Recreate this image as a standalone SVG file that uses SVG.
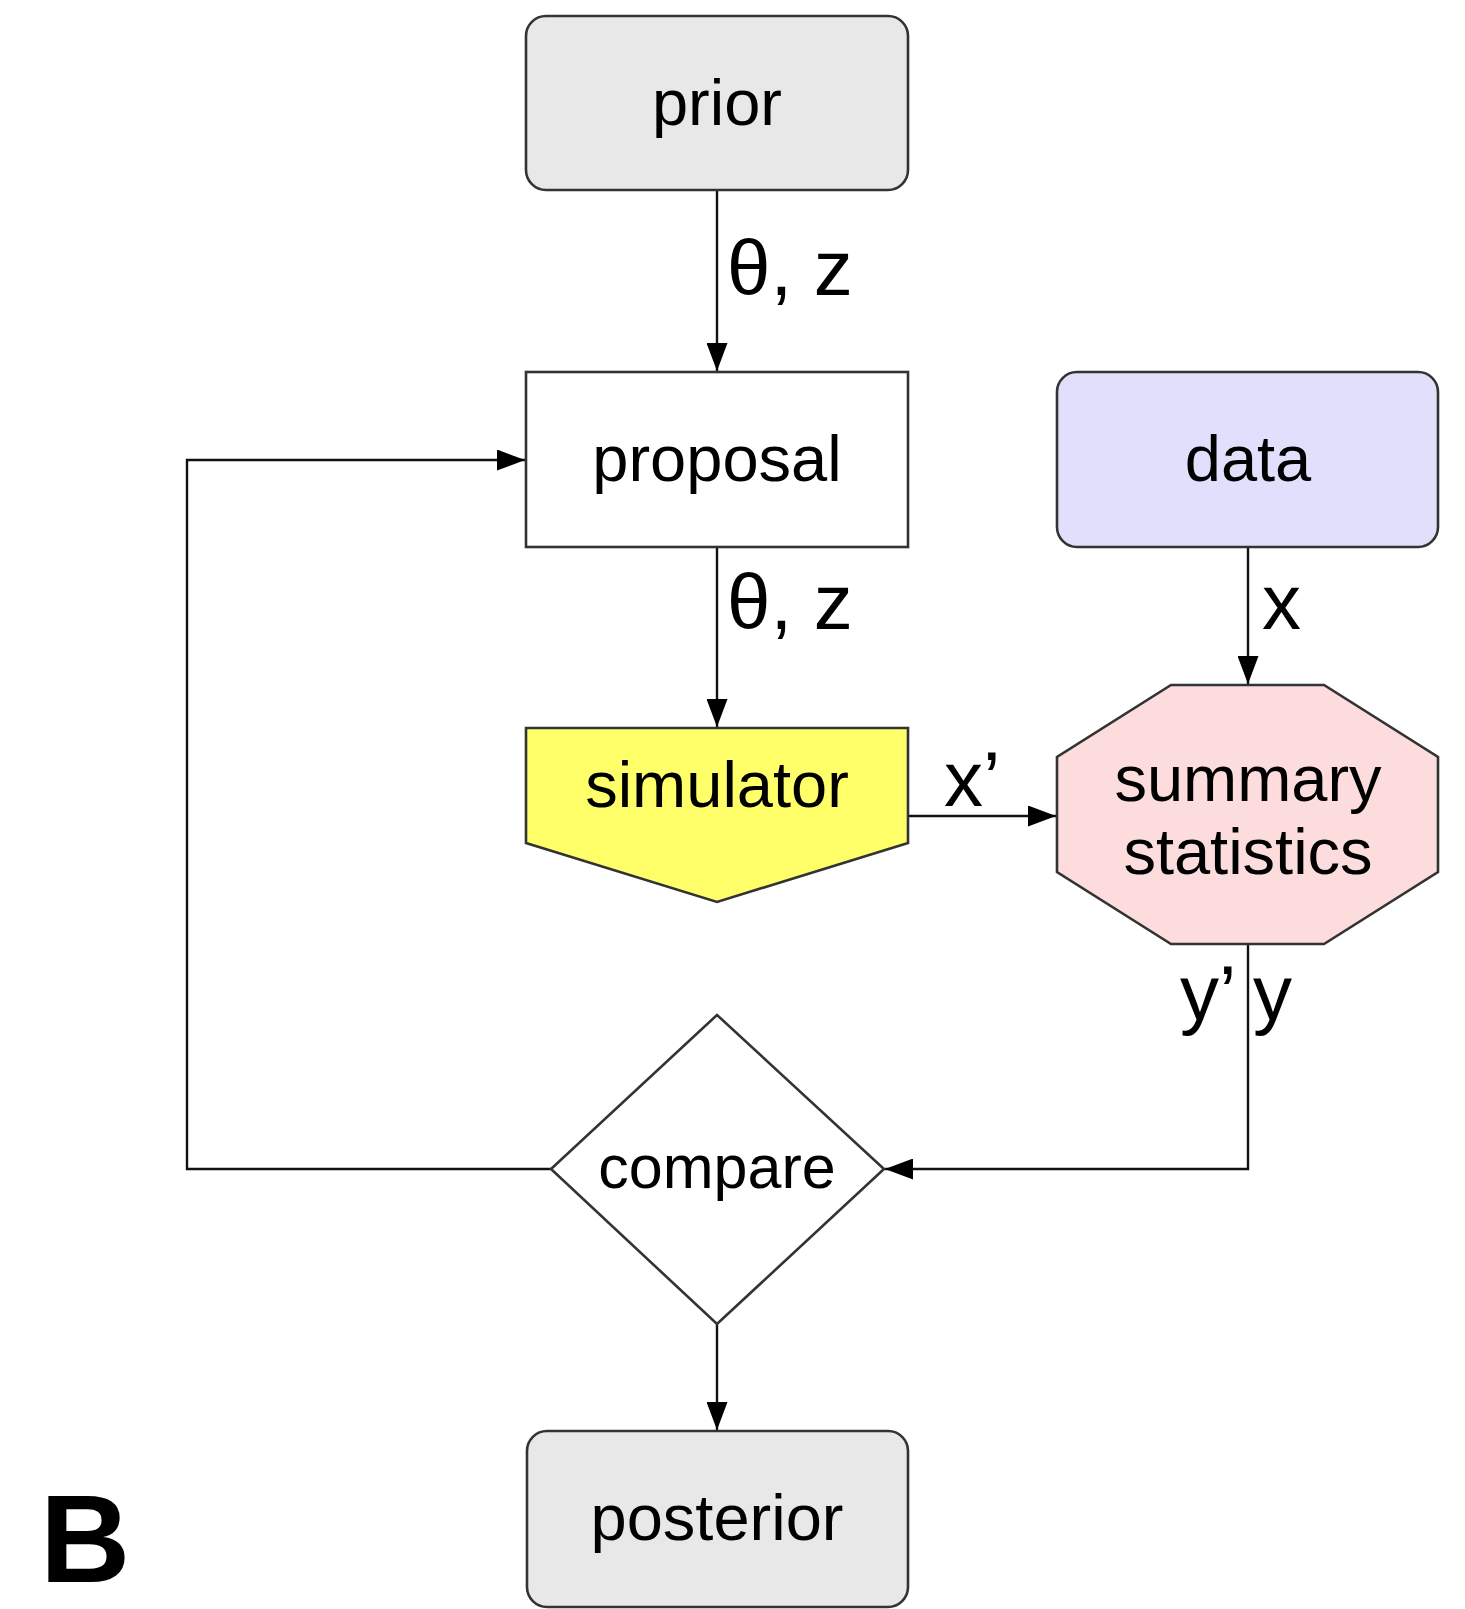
<svg xmlns="http://www.w3.org/2000/svg" width="1465" height="1609" viewBox="0 0 1465 1609">
<style>
.node{stroke:#333;stroke-width:2.6}
.lbl{font-family:"Liberation Sans",Arial,sans-serif;font-size:65px;fill:#000;text-anchor:middle}
.elbl{font-family:"Liberation Sans",Arial,sans-serif;font-size:78px;fill:#000}
.conn{fill:none;stroke:#111;stroke-width:2.4}
</style>
<defs>
<marker id="arr" viewBox="0 0 28 21" refX="28" refY="10.5" markerWidth="28" markerHeight="21" markerUnits="userSpaceOnUse" orient="auto">
<path d="M0,0 L28,10.5 L0,21 Z" fill="#000"/>
</marker>
</defs>
<rect width="1465" height="1609" fill="#fff"/>
<g id="connectors">
<line class="conn" x1="717" y1="190" x2="717" y2="371" marker-end="url(#arr)"/>
<line class="conn" x1="717" y1="547" x2="717" y2="727" marker-end="url(#arr)"/>
<line class="conn" x1="1248" y1="547" x2="1248" y2="684" marker-end="url(#arr)"/>
<line class="conn" x1="908" y1="816" x2="1056" y2="816" marker-end="url(#arr)"/>
<polyline class="conn" points="1248,944 1248,1169 885,1169" marker-end="url(#arr)"/>
<polyline class="conn" points="551,1169 187,1169 187,460 525,460" marker-end="url(#arr)"/>
<line class="conn" x1="717" y1="1324" x2="717" y2="1430" marker-end="url(#arr)"/>
<text class="elbl" x="727" y="295">θ, z</text>
<text class="elbl" x="727" y="629">θ, z</text>
<text class="elbl" x="1262" y="629">x</text>
<text class="elbl" x="944" y="806">x’</text>
<text class="elbl" x="1180" y="1020">y’</text>
<text class="elbl" x="1253" y="1020">y</text>
</g>
<g id="prior">
<rect class="node" x="526" y="16" width="382" height="174" rx="20" fill="#e8e8e8"/>
<text class="lbl" x="717" y="125">prior</text>
</g>
<g id="proposal">
<rect class="node" x="526" y="372" width="382" height="175" fill="#fff"/>
<text class="lbl" x="717" y="481">proposal</text>
</g>
<g id="data">
<rect class="node" x="1057" y="372" width="381" height="175" rx="20" fill="#e0e0fc"/>
<text class="lbl" x="1248" y="481">data</text>
</g>
<g id="simulator">
<path class="node" d="M526,728 L908,728 L908,843 L717,902 L526,843 Z" fill="#ffff6a"/>
<text class="lbl" x="717" y="807">simulator</text>
</g>
<g id="summary">
<path class="node" d="M1171,685 L1324,685 L1438,757 L1438,872 L1324,944 L1171,944 L1057,872 L1057,757 Z" fill="#fcdcdc"/>
<text class="lbl" x="1248" y="801">summary</text>
<text class="lbl" x="1248" y="874">statistics</text>
</g>
<g id="compare">
<path class="node" d="M717,1015 L884,1169 L717,1324 L551,1169 Z" fill="#fff"/>
<text class="lbl" x="717" y="1188" style="font-size:61px">compare</text>
</g>
<g id="posterior">
<rect class="node" x="527" y="1431" width="381" height="176" rx="20" fill="#e8e8e8"/>
<text class="lbl" x="717" y="1540">posterior</text>
</g>
<text x="40" y="1582" style="font-family:'Liberation Sans',Arial,sans-serif;font-weight:bold;font-size:125px">B</text>
</svg>
